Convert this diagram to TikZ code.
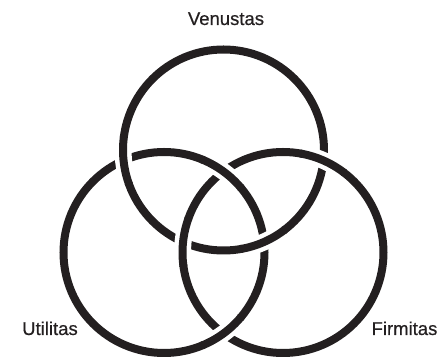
\documentclass[tikz,border=0pt]{standalone}
\usepackage{fontspec}
\setmainfont{Liberation Sans}
\newfontfamily\labelfont[FakeBold=0.6]{Liberation Sans}
\usepackage{tikz}
\usetikzlibrary{calc}
\definecolor{ringink}{RGB}{35,31,32}

\begin{document}
\begin{tikzpicture}[x=1pt,y=1pt,
    ring/.style={draw=ringink,line width=8pt},
    gap/.style={draw=white,line width=17pt},
    label/.style={font=\labelfont\fontsize{18.5}{20}\selectfont,text=ringink,anchor=base}]
            \useasboundingbox (0,0) rectangle (440,358);

            % Ring centres
            \coordinate (ctop) at (223.5,208);
            \coordinate (cleft) at (164,105.5);
            \coordinate (cright) at (283,105.5);

            % The three rings
            \draw[ring] (ctop) circle[radius=100.5];
            \draw[ring] (cleft) circle[radius=100.5];
            \draw[ring] (cright) circle[radius=100.5];

            % Over-crossings (top over left, left over right, right over top)
            \foreach \c/\a in {ctop/-66.2, ctop/186, cleft/53.7, cleft/-53.7, cright/174, cright/66.2} {
                \draw[gap] (\c) ++(\a-13:100.5) arc[start angle=\a-13, end angle=\a+13, radius=100.5];
                \draw[ring] (\c) ++(\a-14:100.5) arc[start angle=\a-14, end angle=\a+14, radius=100.5];
            }

            % Labels
            \node[label] (venustas) at (226,333) {Venustas};
            \node[label] (utilitas) at (50,23) {Utilitas};
            \node[label] (firmitas) at (404.5,23) {Firmitas};
        \end{tikzpicture}
\end{document}
